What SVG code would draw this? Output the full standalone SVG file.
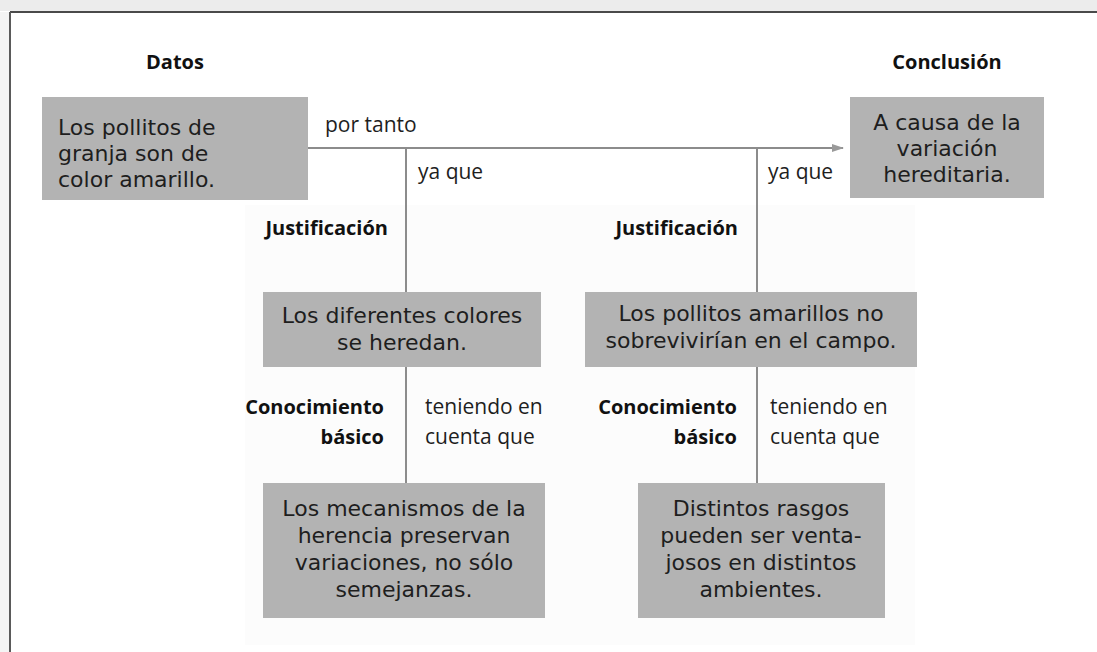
<svg xmlns="http://www.w3.org/2000/svg" width="1097" height="652" viewBox="0 0 1097 652">
<defs>
<style>
.box{fill:#b3b3b3;}
.bt{font-family:"DejaVu Sans","Open Sans",sans-serif;font-size:22px;fill:#1e1e1e;}
.lab{font-family:"Open Sans","Noto Sans",sans-serif;font-size:20px;font-weight:bold;fill:#111;}
.con{font-family:"Open Sans","Noto Sans",sans-serif;font-size:21px;fill:#1e1e1e;}
.ln{stroke:#8c8c8c;stroke-width:2;fill:none;}
</style>
<marker id="ah" markerWidth="12" markerHeight="10" refX="11" refY="5" orient="auto" markerUnits="userSpaceOnUse">
<path d="M0,1 L12,5 L0,9 Z" fill="#9a9a9a"/>
</marker>
</defs>
<rect x="0" y="0" width="1097" height="652" fill="#ffffff"/>
<rect x="0" y="0" width="1097" height="11" fill="#ececec"/>
<rect x="0" y="12" width="9" height="640" fill="#f4f4f4"/>
<line x1="10" y1="12" x2="1097" y2="12" stroke="#4a4a4a" stroke-width="2"/>
<line x1="10" y1="12" x2="10" y2="652" stroke="#5a5a5a" stroke-width="2"/>
<rect x="245" y="205" width="670" height="440" fill="#fcfcfc"/>

<g id="connectors">
<line class="ln" x1="308" y1="148" x2="843" y2="148" marker-end="url(#ah)"/>
<line class="ln" x1="406" y1="148" x2="406" y2="292"/>
<line class="ln" x1="757" y1="148" x2="757" y2="292"/>
<line class="ln" x1="406" y1="367" x2="406" y2="483"/>
<line class="ln" x1="757" y1="367" x2="757" y2="483"/>
<text class="con" x="325" y="132">por tanto</text>
<text class="con" x="418" y="179">ya que</text>
<text class="con" x="768" y="179">ya que</text>
<text class="lab" x="388" y="235" text-anchor="end">Justificación</text>
<text class="lab" x="738" y="235" text-anchor="end">Justificación</text>
<text class="lab" text-anchor="end"><tspan x="384" y="414">Conocimiento</tspan><tspan x="384" y="444">básico</tspan></text>
<text class="con"><tspan x="425" y="414">teniendo en</tspan><tspan x="425" y="444">cuenta que</tspan></text>
<text class="lab" text-anchor="end"><tspan x="737" y="414">Conocimiento</tspan><tspan x="737" y="444">básico</tspan></text>
<text class="con"><tspan x="770" y="414">teniendo en</tspan><tspan x="770" y="444">cuenta que</tspan></text>
</g>

<g id="datos">
<text class="lab" x="175" y="69" text-anchor="middle">Datos</text>
<rect class="box" x="42" y="97" width="266" height="103"/>
<text class="bt"><tspan x="58" y="135">Los pollitos de</tspan><tspan x="58" y="161">granja son de</tspan><tspan x="58" y="187">color amarillo.</tspan></text>
</g>

<g id="conclusion">
<text class="lab" x="947" y="69" text-anchor="middle">Conclusión</text>
<rect class="box" x="850" y="97" width="194" height="101"/>
<text class="bt" text-anchor="middle"><tspan x="947" y="130">A causa de la</tspan><tspan x="947" y="156">variación</tspan><tspan x="947" y="182">hereditaria.</tspan></text>
</g>

<g id="justificacion1">
<rect class="box" x="263" y="292" width="278" height="75"/>
<text class="bt" text-anchor="middle"><tspan x="402" y="323">Los diferentes colores</tspan><tspan x="402" y="350">se heredan.</tspan></text>
</g>

<g id="justificacion2">
<rect class="box" x="585" y="292" width="332" height="75"/>
<text class="bt" text-anchor="middle"><tspan x="751" y="321">Los pollitos amarillos no</tspan><tspan x="751" y="348">sobrevivirían en el campo.</tspan></text>
</g>

<g id="conocimiento1">
<rect class="box" x="263" y="483" width="282" height="135"/>
<text class="bt" text-anchor="middle"><tspan x="404" y="516">Los mecanismos de la</tspan><tspan x="404" y="543">herencia preservan</tspan><tspan x="404" y="570">variaciones, no sólo</tspan><tspan x="404" y="597">semejanzas.</tspan></text>
</g>

<g id="conocimiento2">
<rect class="box" x="638" y="483" width="247" height="135"/>
<text class="bt" text-anchor="middle"><tspan x="761" y="516">Distintos rasgos</tspan><tspan x="761" y="543">pueden ser venta-</tspan><tspan x="761" y="570">josos en distintos</tspan><tspan x="761" y="597">ambientes.</tspan></text>
</g>
</svg>
